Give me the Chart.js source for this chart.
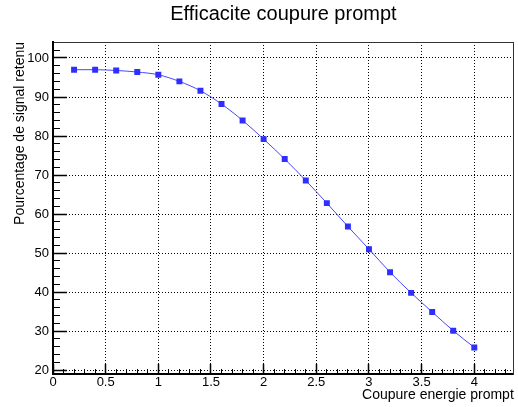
<!DOCTYPE html>
<html>
<head>
<meta charset="utf-8">
<script src="https://cdn.jsdelivr.net/npm/chart.js@4"></script>
<style>
  body { margin: 0; background: #fff; }
  canvas { display: block; }
</style>
</head>
<body>
<canvas id="effChart" width="518" height="407"></canvas>
<script>
// coupure (x) et pourcentage de signal retenu (y)
const coupures = [0.2, 0.4, 0.6, 0.8, 1.0, 1.2, 1.4, 1.6, 1.8, 2.0, 2.2, 2.4, 2.6, 2.8, 3.0, 3.2, 3.4, 3.6, 3.8, 4.0];
const efficacite = [97.0, 97.0, 96.8, 96.4, 95.7, 94.0, 91.6, 88.2, 84.0, 79.2, 74.1, 68.6, 62.8, 56.8, 51.0, 45.1, 39.8, 34.9, 30.1, 25.8];

const xTicks = [0, 0.5, 1, 1.5, 2, 2.5, 3, 3.5, 4];
const yTicks = [20, 30, 40, 50, 60, 70, 80, 90, 100];

const xMin = 0, xMax = 4.375;
const yMin = 19, yMax = 104.1;

// petites graduations (0.1 en x, 2 en y)
const xMinor = [];
for (let i = 0; i <= 43; i++) xMinor.push(i / 10);
const yMinor = [];
for (let v = 20; v <= 104; v += 2) yMinor.push(v);

const police = 'Liberation Sans, Arial, Helvetica, sans-serif';
Chart.defaults.font.family = police;
Chart.defaults.color = '#000';

function setTicks(list) {
    return function (scale) {
        scale.ticks = list.map(v => ({ value: v }));
    };
}

const ctx = document.getElementById('effChart').getContext('2d');
new Chart(ctx, {
    type: 'line',
    data: {
        datasets: [{
            data: coupures.map((x, i) => ({ x: x, y: efficacite[i] })),
            borderColor: '#4646ff',
            borderWidth: 1,
            backgroundColor: '#2e2eff',
            pointStyle: 'rect',
            pointRadius: 4.2,
            pointBorderWidth: 0,
            pointBackgroundColor: '#2e2eff',
            cubicInterpolationMode: 'monotone',
            fill: false
        }]
    },
    options: {
        responsive: false,
        animation: false,
        events: [],
        layout: { padding: { left: 0, right: 2, top: 0, bottom: 0 } },
        plugins: {
            legend: { display: false },
            tooltip: { enabled: false },
            title: {
                display: true,
                text: 'Efficacite coupure prompt',
                fullSize: false,
                color: '#000',
                font: { size: 20, weight: 'normal' },
                padding: { top: 2, bottom: 16 }
            }
        },
        scales: {
            x: {
                type: 'linear', position: 'bottom', weight: 1,
                min: xMin, max: xMax,
                afterBuildTicks: setTicks(xTicks),
                afterFit: s => { s.height = 33; },
                ticks: { font: { size: 13 }, padding: 11, maxRotation: 0, minRotation: 0, autoSkip: false,
                    callback: v => String(v) },
                grid: { color: '#000', lineWidth: 1, tickLength: -10, tickWidth: 1.5, tickColor: '#000', tickBorderDash: [] },
                border: { display: true, color: '#000', width: 2, dash: [1, 2] },
                title: { display: true, text: 'Coupure energie prompt', align: 'end', font: { size: 14 }, padding: { top: 0, bottom: 3 } }
            },
            xMinor: {
                type: 'linear', axis: 'x', position: 'bottom', weight: 0,
                min: xMin, max: xMax,
                afterBuildTicks: setTicks(xMinor),
                afterFit: s => { s.height = 0; },
                ticks: { display: false },
                grid: { drawOnChartArea: false, tickLength: -5, tickWidth: 1, tickColor: '#000' },
                border: { display: false }
            },
            xTop: {
                type: 'linear', axis: 'x', position: 'top', weight: 0,
                min: xMin, max: xMax,
                afterFit: s => { s.height = 0; },
                ticks: { display: false },
                grid: { display: false },
                border: { display: true, color: '#333', width: 1 }
            },
            y: {
                type: 'linear', position: 'left', weight: 1,
                min: yMin, max: yMax,
                afterBuildTicks: setTicks(yTicks),
                afterFit: s => { s.width = 53; },
                ticks: { font: { size: 13 }, padding: 18, callback: v => String(v) },
                grid: { color: '#000', lineWidth: 1, tickLength: -14, tickWidth: 1.5, tickColor: '#000', tickBorderDash: [] },
                border: { display: true, color: '#000', width: 2, dash: [1, 2] },
                title: { display: true, text: 'Pourcentage de signal retenu', align: 'end', font: { size: 14 }, padding: { top: 12, bottom: 0 } }
            },
            yMinor: {
                type: 'linear', axis: 'y', position: 'left', weight: 0,
                min: yMin, max: yMax,
                afterBuildTicks: setTicks(yMinor),
                afterFit: s => { s.width = 0; },
                ticks: { display: false },
                grid: { drawOnChartArea: false, tickLength: -7, tickWidth: 1, tickColor: '#000' },
                border: { display: false }
            },
            yRight: {
                type: 'linear', axis: 'y', position: 'right', weight: 0,
                min: yMin, max: yMax,
                afterFit: s => { s.width = 0; },
                ticks: { display: false },
                grid: { display: false },
                border: { display: true, color: '#333', width: 1 }
            }
        }
    }
});
</script>
</body>
</html>
